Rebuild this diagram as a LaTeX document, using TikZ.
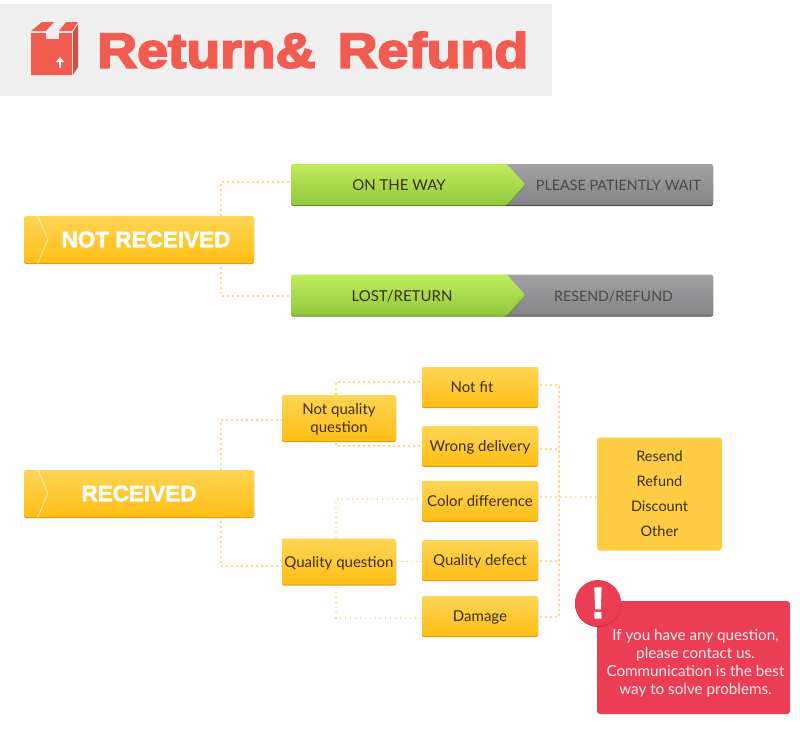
\documentclass[tikz,border=0pt]{standalone}
\usepackage{fontspec}
\setmainfont{Lato}
\newfontfamily\titlefont[FakeBold=4,FakeStretch=1.13]{Liberation Sans Bold}
\newfontfamily\headfont[FakeBold=2]{Liberation Sans Bold}
\usetikzlibrary{calc,positioning,shapes.symbols}
\definecolor{ReturnRed}{RGB}{242,92,80}
\definecolor{ReturnSide}{RGB}{214,78,68}
\definecolor{ReturnPanel}{RGB}{239,239,239}
\definecolor{AmberTop}{RGB}{255,213,85}
\definecolor{AmberBottom}{RGB}{255,190,20}
\definecolor{AmberEdge}{RGB}{214,150,24}
\definecolor{AmberFlat}{RGB}{255,204,68}
\definecolor{DotLine}{RGB}{255,220,128}
\definecolor{LimeTop}{RGB}{192,236,92}
\definecolor{LimeBottom}{RGB}{146,200,60}
\definecolor{LimeEdge}{RGB}{90,140,40}
\definecolor{SlateTop}{RGB}{162,162,164}
\definecolor{SlateBottom}{RGB}{132,132,134}
\definecolor{SlateEdge}{RGB}{72,72,72}
\definecolor{AlertRed}{RGB}{235,62,84}
\definecolor{AlertEdge}{RGB}{196,44,66}
\definecolor{BoxText}{RGB}{58,48,28}
\tikzset{
  amberbox/.style={rounded corners=2pt,inner sep=0pt,top color=AmberTop,bottom color=AmberBottom,text=BoxText,align=center,font=\fontsize{15}{18}\selectfont,preaction={fill=AmberEdge,transform canvas={yshift=-1pt}}},
  mainbox/.style={amberbox,minimum width=230pt,minimum height=47pt,text=white,font=\headfont\fontsize{22.5}{24}\selectfont},
  midbox/.style={amberbox,minimum width=114pt,minimum height=46pt},
  leafbox/.style={amberbox,minimum width=116pt,minimum height=40pt,text height=13pt,text depth=2pt},
  limebox/.style={signal,signal to=east,signal pointer angle=96,rounded corners=1.5pt,inner sep=0pt,minimum width=234pt,minimum height=41pt,top color=LimeTop,bottom color=LimeBottom,text=BoxText,text height=14pt,text depth=2pt,font=\fontsize{15}{18}\selectfont,preaction={fill=LimeEdge,transform canvas={yshift=-1pt}}},
  slatebox/.style={rounded corners=2pt,inner sep=0pt,minimum width=210pt,minimum height=41pt,top color=SlateTop,bottom color=SlateBottom,text=SlateEdge,text height=14pt,text depth=2pt,font=\fontsize{14.3}{18}\selectfont,preaction={fill=SlateEdge,transform canvas={yshift=-1pt}}},
  dotline/.style={draw=DotLine,line width=1.5pt,dash pattern=on 1.5pt off 3.5pt},
  chevron/.style={draw=white,opacity=.55,line width=1pt}
}
\begin{document}
\begin{tikzpicture}[x=1pt,y=-1pt]
  \useasboundingbox (0,0) rectangle (800,732);
  \node[fill=ReturnPanel,minimum width=552pt,minimum height=92pt,inner sep=0pt,anchor=north west] (banner) at (0,4) {};
  \fill[ReturnRed] (31,33) -- (46,33) -- (46,39) -- (59,39) -- (59,33) -- (72,33) -- (72,75) -- (31,75) -- cycle;
  \fill[ReturnRed] (31,31) -- (42,22) -- (54,22) -- (46,31) -- cycle;
  \fill[ReturnRed] (59,31) -- (66,22) -- (78,22) -- (72,31) -- cycle;
  \fill[ReturnSide] (73,32) -- (78,24) -- (78,67) -- (73,75) -- cycle;
  \fill[white] (60,57) -- (64,62) -- (61,62) -- (61,68) -- (59,68) -- (59,62) -- (56,62) -- cycle;
  \node[text=ReturnRed,font=\titlefont\fontsize{49}{52}\selectfont,inner sep=0pt,anchor=west] (title) at (97,50) {Return\&\hspace{22pt}Refund};

  \node[mainbox] (notrec) at (139,239.5) {\hspace*{14pt}NOT RECEIVED};
  \node[mainbox] (rec) at (139,493.5) {RECEIVED};
  \draw[chevron] ([xshift=14pt]notrec.north west) -- ([xshift=24pt]notrec.west) -- ([xshift=14pt]notrec.south west);
  \draw[chevron] ([xshift=14pt]rec.north west) -- ([xshift=24pt]rec.west) -- ([xshift=14pt]rec.south west);

  \node[slatebox] (wait) at (608,184.5) {\hspace*{21pt}PLEASE PATIENTLY WAIT};
  \node[limebox] (onway) at (399,184.5) {ON THE WAY};
  \node[slatebox] (resendrefund) at (608,295) {\hspace*{11pt}RESEND/REFUND};
  \node[limebox] (lost) at (399,295) {\hspace*{6pt}LOST/RETURN};

  \node[midbox] (notqual) at (339,418) {\rule{0pt}{14pt}Not quality\\question};
  \node[midbox,text height=13pt,text depth=2pt] (qual) at (339,561.5) {Quality question};
  \node[leafbox] (notfit) at (480,387) {\hspace*{-16pt}Not fit};
  \node[leafbox,below=18.5pt of notfit] (wrong) {Wrong delivery};
  \node[leafbox,below=14.5pt of wrong] (color) {Color difference};
  \node[leafbox,below=19pt of color] (defect) {Quality defect};
  \node[leafbox,below=15.5pt of defect] (damage) {Damage};

  \node[fill=AmberFlat,rounded corners=3pt,minimum width=125pt,minimum height=113pt,inner sep=0pt,text=BoxText,align=center,font=\fontsize{14.5}{25}\selectfont] (remedy) at (659.5,494) {Resend\\Refund\\Discount\\Other};
  \node[fill=AlertRed,rounded corners=3pt,minimum width=193pt,minimum height=113pt,inner sep=0pt,text=white!90!AlertRed,align=center,font=\fontsize{15.2}{18}\selectfont] (contact) at (693.5,657.5) {\rule{0pt}{22pt}\hspace*{4pt}If you have any question,\\\hspace*{4pt}please contact us.\\\hspace*{4pt}Communication is the best\\\hspace*{4pt}way to solve problems.};
  \node[circle,fill=AlertRed,minimum size=46pt,inner sep=0pt,text=white,font=\headfont\fontsize{44}{44}\selectfont,preaction={fill=AlertEdge,transform canvas={yshift=-1pt}}] (alert) at (598,603) {!};

  \coordinate (bus) at (559,497);
  \draw[dotline] ([xshift=-33pt]notrec.north east) |- ([yshift=2.5pt]onway.west);
  \draw[dotline] ([xshift=-33pt,yshift=-4pt]notrec.south east) |- ([yshift=-1pt]lost.west);
  \draw[dotline] ([xshift=-33pt]rec.north east) |- ([yshift=-2pt]notqual.west);
  \draw[dotline] ([xshift=-33pt,yshift=-4pt]rec.south east) |- ([yshift=-4.5pt]qual.west);
  \draw[dotline] ([xshift=-3pt]notqual.north) |- ([yshift=5pt]notfit.west);
  \draw[dotline] ([xshift=-3pt,yshift=-2pt]notqual.south) |- (wrong.west);
  \draw[dotline] ([xshift=-3pt]qual.north) |- ([yshift=2pt]color.west);
  \draw[dotline] (qual.east) -- (defect.west |- qual.east);
  \draw[dotline] ([xshift=-3pt,yshift=-2pt]qual.south) |- ([yshift=-2pt]damage.west);
  \draw[dotline] ([xshift=2pt,yshift=2pt]notfit.east) -| (bus);
  \draw[dotline] ([xshift=2pt,yshift=-3pt]wrong.east) -| (bus);
  \draw[dotline] ([xshift=2pt,yshift=-1pt]damage.east) -| (bus);
  \draw[dotline] ([xshift=2pt,yshift=-1pt]defect.east) -- ++(19pt,0);
  \draw[dotline] ([xshift=2pt,yshift=4pt]color.east) -- (bus) -- (bus -| remedy.west);
\end{tikzpicture}
\end{document}
